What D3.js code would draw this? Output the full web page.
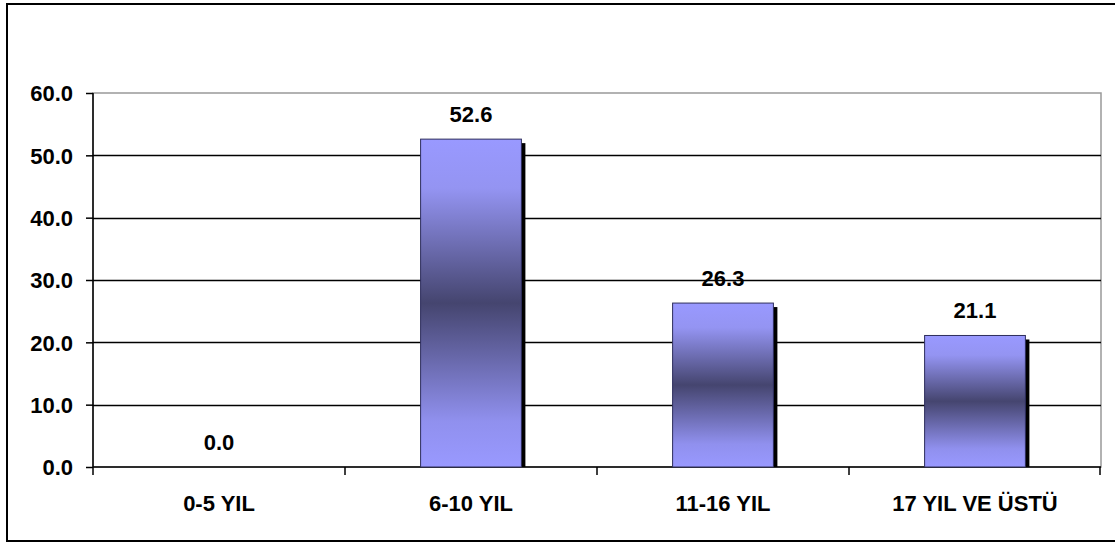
<!DOCTYPE html>
<html>
<head>
<meta charset="utf-8">
<script src="https://cdn.jsdelivr.net/npm/d3@7"></script>
<style>
  body { margin: 0; background: #fff; }
  text { font-family: "Liberation Sans", Arial, sans-serif; font-weight: bold; font-size: 22px; fill: #000; }
</style>
</head>
<body>
<div id="chart"></div>
<script>
// data
const categories = ["0-5 YIL", "6-10 YIL", "11-16 YIL", "17 YIL VE ÜSTÜ"];
const values = [0.0, 52.6, 26.3, 21.1];
const yTicks = [0, 10, 20, 30, 40, 50, 60];

const width = 1115, height = 545;
const plotLeft = 93, plotRight = 1101, plotTop = 93, plotBottom = 467;

const svg = d3.select("#chart").append("svg")
  .attr("width", width)
  .attr("height", height);

// gradient for the bars (light - dark - light)
const defs = svg.append("defs");
const grad = defs.append("linearGradient")
  .attr("id", "barGrad")
  .attr("x1", 0).attr("y1", 0).attr("x2", 0).attr("y2", 1);
grad.append("stop").attr("offset", "0%").attr("stop-color", "#9999ff");
grad.append("stop").attr("offset", "15%").attr("stop-color", "#9494f2");
grad.append("stop").attr("offset", "50%").attr("stop-color", "#45456f");
grad.append("stop").attr("offset", "86%").attr("stop-color", "#9090ee");
grad.append("stop").attr("offset", "100%").attr("stop-color", "#9999ff");

// outer frame
svg.append("rect")
  .attr("x", 7).attr("y", 4)
  .attr("width", 1120).attr("height", 537)
  .attr("fill", "none")
  .attr("stroke", "#000")
  .attr("stroke-width", 2);

const x = d3.scaleBand()
  .domain(categories)
  .range([plotLeft, plotRight])
  .padding(0);

const y = d3.scaleLinear()
  .domain([0, 60])
  .range([plotBottom, plotTop]);

// plot area border (gray)
svg.append("rect")
  .attr("x", plotLeft).attr("y", plotTop)
  .attr("width", plotRight - plotLeft).attr("height", plotBottom - plotTop)
  .attr("fill", "none")
  .attr("stroke", "#999")
  .attr("stroke-width", 1.5);

// gridlines
svg.append("g")
  .selectAll("line")
  .data(yTicks.filter(d => d > 0 && d < 60))
  .enter().append("line")
    .attr("x1", plotLeft).attr("x2", plotRight)
    .attr("y1", d => Math.round(y(d)) + 0.5)
    .attr("y2", d => Math.round(y(d)) + 0.5)
    .attr("stroke", "#000")
    .attr("stroke-width", 1.5);

// y axis
const yAxis = svg.append("g")
  .attr("transform", `translate(${plotLeft},0)`)
  .call(d3.axisLeft(y).tickValues(yTicks).tickSize(7).tickPadding(13).tickFormat(d3.format(".1f")));
yAxis.select(".domain").remove();
yAxis.selectAll(".tick line").attr("stroke", "#000").attr("stroke-width", 1.5);
yAxis.selectAll(".tick text").attr("dy", "0.36em");
yAxis.attr("font-size", null).attr("font-family", null);

svg.append("line")
  .attr("x1", plotLeft).attr("x2", plotLeft)
  .attr("y1", plotTop).attr("y2", plotBottom + 8)
  .attr("stroke", "#000").attr("stroke-width", 1.5);

// x axis
svg.append("line")
  .attr("x1", plotLeft).attr("x2", plotRight)
  .attr("y1", plotBottom).attr("y2", plotBottom)
  .attr("stroke", "#000").attr("stroke-width", 1.5);

svg.append("g")
  .selectAll("line")
  .data(categories.slice(1).concat(["end"]))
  .enter().append("line")
    .attr("x1", d => d === "end" ? plotRight - 1 : x(d))
    .attr("x2", d => d === "end" ? plotRight - 1 : x(d))
    .attr("y1", plotBottom).attr("y2", plotBottom + 8)
    .attr("stroke", "#000").attr("stroke-width", 1.5);

svg.append("g")
  .selectAll("text")
  .data(categories)
  .enter().append("text")
    .attr("x", d => x(d) + x.bandwidth() / 2)
    .attr("y", 511)
    .attr("text-anchor", "middle")
    .text(d => d);

// bars
const barW = x.bandwidth() * 0.4;
const bars = categories.map((c, i) => ({ cat: c, value: values[i] }));

// shadows
svg.append("g")
  .selectAll("rect")
  .data(bars.filter(d => d.value > 0))
  .enter().append("rect")
    .attr("x", d => x(d.cat) + x.bandwidth() / 2 - barW / 2 + 4)
    .attr("y", d => y(d.value) + 4)
    .attr("width", barW)
    .attr("height", d => plotBottom - y(d.value) - 4)
    .attr("fill", "#000");

svg.append("g")
  .selectAll("rect")
  .data(bars.filter(d => d.value > 0))
  .enter().append("rect")
    .attr("x", d => x(d.cat) + x.bandwidth() / 2 - barW / 2)
    .attr("y", d => y(d.value))
    .attr("width", barW)
    .attr("height", d => plotBottom - y(d.value))
    .attr("fill", "url(#barGrad)")
    .attr("stroke", "#2e2e5c")
    .attr("stroke-width", 1);

// value labels
svg.append("g")
  .selectAll("text")
  .data(bars)
  .enter().append("text")
    .attr("x", d => x(d.cat) + x.bandwidth() / 2)
    .attr("y", d => y(d.value) - 17)
    .attr("text-anchor", "middle")
    .text(d => d3.format(".1f")(d.value));
</script>
</body>
</html>
